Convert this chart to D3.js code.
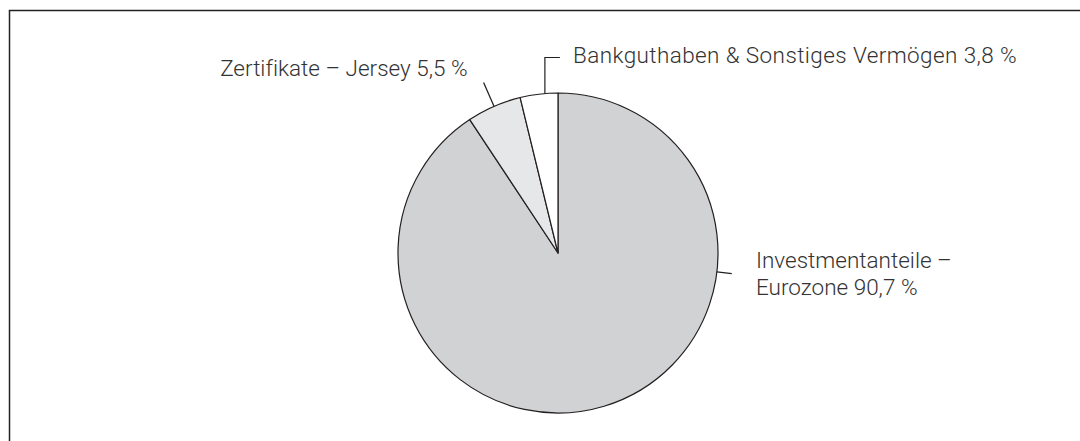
<!DOCTYPE html>
<html>
<head>
<meta charset="utf-8">
<script src="https://cdn.jsdelivr.net/npm/d3@7"></script>
<style>
  body { margin: 0; background: #fff; }
  text { font-family: Roboto, "Noto Sans", sans-serif; font-weight: 300; fill: #333; font-variant-ligatures: none; }
</style>
</head>
<body>
<div id="chart"></div>
<script>
const svgWidth = 1080;
const svgHeight = 441;

// data
const categories = ["Investmentanteile – Eurozone", "Zertifikate – Jersey", "Bankguthaben & Sonstiges Vermögen"];
const values = [90.7, 5.5, 3.8];
const labelLines = [["Investmentanteile –", "Eurozone 90,7 %"], ["Zertifikate – Jersey 5,5 %"], ["Bankguthaben & Sonstiges Vermögen 3,8 %"]];
const colors = ["#d1d2d4", "#e6e7e8", "#ffffff"];

const cx = 558, cy = 253, radius = 160;
const fontSize = "22.5px";

let svg = d3.select("#chart").append("svg").attr("width", svgWidth).attr("height", svgHeight);

// frame (top + left only)
svg.append("path")
  .attr("d", `M9.5,${svgHeight} L9.5,10.5 L${svgWidth},10.5`)
  .attr("fill", "none").attr("stroke", "#222").attr("stroke-width", 1.5);

let data = categories.map((c, i) => ({ cat: c, value: values[i], lines: labelLines[i], color: colors[i] }));

let pie = d3.pie().sort(null).value(d => d.value);
let arc = d3.arc().innerRadius(0).outerRadius(radius);
let arcs = pie(data);

let g = svg.append("g").attr("transform", `translate(${cx}, ${cy})`);
g.selectAll("path.slice")
  .data(arcs)
  .enter()
  .append("path")
  .classed("slice", true)
  .attr("d", arc)
  .attr("fill", d => d.data.color)
  .attr("stroke", "#231f20")
  .attr("stroke-width", 1.2)
  .attr("stroke-linejoin", "round");

let pt = (ang, r) => [r * Math.sin(ang), -r * Math.cos(ang)];
let rad = deg => deg * Math.PI / 180;

// leader lines
let lineAttr = sel => sel.attr("fill", "none").attr("stroke", "#231f20").attr("stroke-width", 1.2);

// Investmentanteile – leader on the right side
let a0 = rad(96.8);
let p0 = pt(a0, radius), p1 = pt(a0, radius + 15);
g.append("path").attr("d", `M${p0} L${p1}`).call(lineAttr);
let t0 = g.append("text").attr("x", 198).attr("y", 15).style("font-size", fontSize);
t0.selectAll("tspan").data(arcs[0].data.lines).enter().append("tspan")
  .attr("x", 198).attr("dy", (d, i) => i == 0 ? 0 : 27).text(d => d);

// Zertifikate – radial leader at mid angle
let a1 = (arcs[1].startAngle + arcs[1].endAngle) / 2;
let q0 = pt(a1, radius), q1 = pt(a1, radius + 26);
g.append("path").attr("d", `M${q0} L${q1}`).call(lineAttr);
g.append("text").attr("x", q1[0] - 16).attr("y", -177).attr("text-anchor", "end")
  .style("font-size", fontSize).text(arcs[1].data.lines[0]);

// Bankguthaben – elbow leader
let a2 = rad(355.3);
let b0 = pt(a2, radius);
g.append("path").attr("d", `M${b0} L${b0[0]},-195.5 L${b0[0] + 15},-195.5`).call(lineAttr);
g.append("text").attr("x", 15).attr("y", -190)
  .style("font-size", fontSize).style("letter-spacing", "0.4px").text(arcs[2].data.lines[0]);
</script>
</body>
</html>
